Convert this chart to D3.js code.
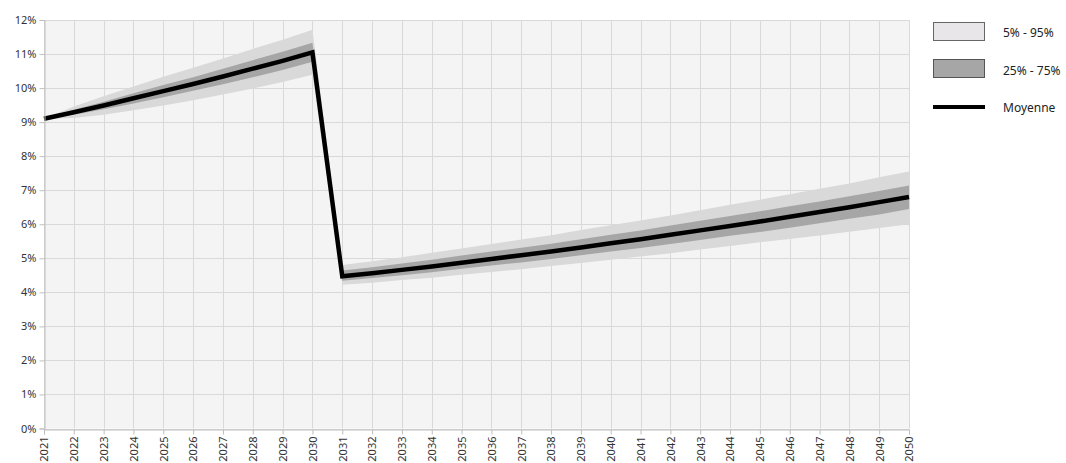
<!DOCTYPE html>
<html>
<head>
<meta charset="utf-8">
<script src="https://cdn.jsdelivr.net/npm/d3@7"></script>
<style>
  body { margin: 0; background: #fff; }
  text { font-family: "Noto Sans", sans-serif; }
</style>
</head>
<body>
<div id="chart"></div>
<script>
'use strict'

// years on the x axis
const years = d3.range(2021, 2051);

// values in percent
const moyenne = [9.10, 9.29, 9.49, 9.70, 9.91, 10.12, 10.34, 10.57, 10.80, 11.05,
  4.47, 4.56, 4.66, 4.76, 4.87, 4.98, 5.09, 5.20, 5.32, 5.44,
  5.56, 5.69, 5.82, 5.95, 6.08, 6.22, 6.36, 6.50, 6.65, 6.80];
const p95 = [9.10, 9.46, 9.76, 10.05, 10.33, 10.60, 10.87, 11.15, 11.42, 11.71,
  4.80, 4.91, 5.03, 5.16, 5.29, 5.42, 5.55, 5.68, 5.83, 5.97,
  6.11, 6.26, 6.41, 6.57, 6.72, 6.88, 7.04, 7.20, 7.38, 7.55];
const p5 = [9.10, 9.12, 9.22, 9.35, 9.49, 9.64, 9.81, 9.99, 10.18, 10.39,
  4.22, 4.28, 4.36, 4.43, 4.52, 4.60, 4.68, 4.77, 4.86, 4.96,
  5.05, 5.15, 5.26, 5.36, 5.47, 5.57, 5.67, 5.78, 5.89, 6.00];
const p75 = [9.10, 9.36, 9.60, 9.85, 10.09, 10.32, 10.57, 10.82, 11.07, 11.33,
  4.64, 4.74, 4.85, 4.96, 5.08, 5.20, 5.31, 5.43, 5.56, 5.69,
  5.82, 5.96, 6.10, 6.24, 6.38, 6.53, 6.67, 6.82, 6.98, 7.14];
const p25 = [9.10, 9.22, 9.38, 9.55, 9.73, 9.92, 10.11, 10.32, 10.53, 10.77,
  4.34, 4.42, 4.50, 4.59, 4.69, 4.79, 4.88, 4.98, 5.09, 5.20,
  5.30, 5.42, 5.54, 5.66, 5.77, 5.90, 6.03, 6.16, 6.29, 6.45];

const yTicks = d3.range(0, 13);
const legendLabels = ['5% - 95%', '25% - 75%', 'Moyenne'];

const width = 1066;
const height = 463;
const margin = { top: 20, right: 157, bottom: 34, left: 44 };

const svg = d3.select('#chart')
  .append('svg')
    .attr('width', width)
    .attr('height', height);

const x = d3.scaleLinear()
  .domain([2021, 2050])
  .range([margin.left, width - margin.right]);

const y = d3.scaleLinear()
  .domain([0, 12])
  .range([height - margin.bottom - 0.5, margin.top]);

// plot background
svg.append('rect')
  .attr('x', x(2021))
  .attr('y', y(12))
  .attr('width', x(2050) - x(2021))
  .attr('height', y(0) - y(12))
  .attr('fill', '#f4f4f4');

// grid
svg.append('g')
  .selectAll('line.h')
  .data(yTicks)
  .enter()
  .append('line')
    .attr('x1', x(2021))
    .attr('x2', x(2050))
    .attr('y1', d => Math.round(y(d)) + 0.5)
    .attr('y2', d => Math.round(y(d)) + 0.5)
    .attr('stroke', '#d9d9d9');

svg.append('g')
  .selectAll('line.v')
  .data(years)
  .enter()
  .append('line')
    .attr('x1', d => Math.round(x(d)) + 0.5)
    .attr('x2', d => Math.round(x(d)) + 0.5)
    .attr('y1', y(12))
    .attr('y2', y(0))
    .attr('stroke', '#d9d9d9');

const rows = years.map((yr, i) => ({
  year: yr, mean: moyenne[i], lo5: p5[i], hi95: p95[i], lo25: p25[i], hi75: p75[i]
}));

const outer = d3.area()
  .x(d => x(d.year))
  .y0(d => y(d.lo5))
  .y1(d => y(d.hi95));

const inner = d3.area()
  .x(d => x(d.year))
  .y0(d => y(d.lo25))
  .y1(d => y(d.hi75));

const meanLine = d3.line()
  .x(d => x(d.year))
  .y(d => y(d.mean));

svg.append('path')
  .datum(rows)
  .attr('d', outer)
  .attr('fill', '#d9d9d9');

svg.append('path')
  .datum(rows)
  .attr('d', inner)
  .attr('fill', '#a6a6a6');

svg.append('path')
  .datum(rows)
  .attr('d', meanLine)
  .attr('fill', 'none')
  .attr('stroke', '#000')
  .attr('stroke-width', 4.5)
  .attr('stroke-linejoin', 'miter');

// axes
const yAxis = d3.axisLeft(y)
  .tickValues(yTicks)
  .tickSize(5)
  .tickFormat(d => d + '%');

const xAxis = d3.axisBottom(x)
  .tickValues(years)
  .tickSize(5)
  .tickFormat(d3.format('d'));

const gy = svg.append('g')
  .attr('transform', 'translate(' + (Math.round(x(2021)) + 0.5) + ',0)')
  .call(yAxis);

const gx = svg.append('g')
  .attr('transform', 'translate(0,' + (Math.round(y(0)) + 0.5) + ')')
  .call(xAxis);

[gy, gx].forEach(g => {
  g.select('.domain').attr('stroke', '#bfbfbf');
  g.selectAll('.tick line').attr('stroke', '#bfbfbf');
  g.selectAll('.tick text')
    .attr('fill', '#333')
    .style('font-family', '"Noto Sans", sans-serif')
    .style('font-size', '11px');
});

gy.selectAll('.tick text').attr('x', -8);

gx.selectAll('.tick text')
  .attr('text-anchor', 'end')
  .attr('transform', 'rotate(-90)')
  .attr('x', -7)
  .attr('y', 0)
  .attr('dy', '0.35em');

// legend
const legend = svg.append('g')
  .attr('transform', 'translate(933,22)');

legend.append('rect')
  .attr('x', 0.5).attr('y', 0.5)
  .attr('width', 51).attr('height', 18)
  .attr('fill', '#e8e6e8')
  .attr('stroke', '#666');

legend.append('rect')
  .attr('x', 0.5).attr('y', 37.5)
  .attr('width', 51).attr('height', 18)
  .attr('fill', '#a6a6a6')
  .attr('stroke', '#555');

legend.append('line')
  .attr('x1', 0).attr('x2', 52)
  .attr('y1', 85).attr('y2', 85)
  .attr('stroke', '#000')
  .attr('stroke-width', 4);

legend.selectAll('text')
  .data(legendLabels)
  .enter()
  .append('text')
    .attr('x', 70)
    .attr('y', (d, i) => 11 + i * 37.5)
    .attr('dy', '0.35em')
    .attr('fill', '#222')
    .style('font-size', '12px')
    .text(d => d);
</script>
</body>
</html>
